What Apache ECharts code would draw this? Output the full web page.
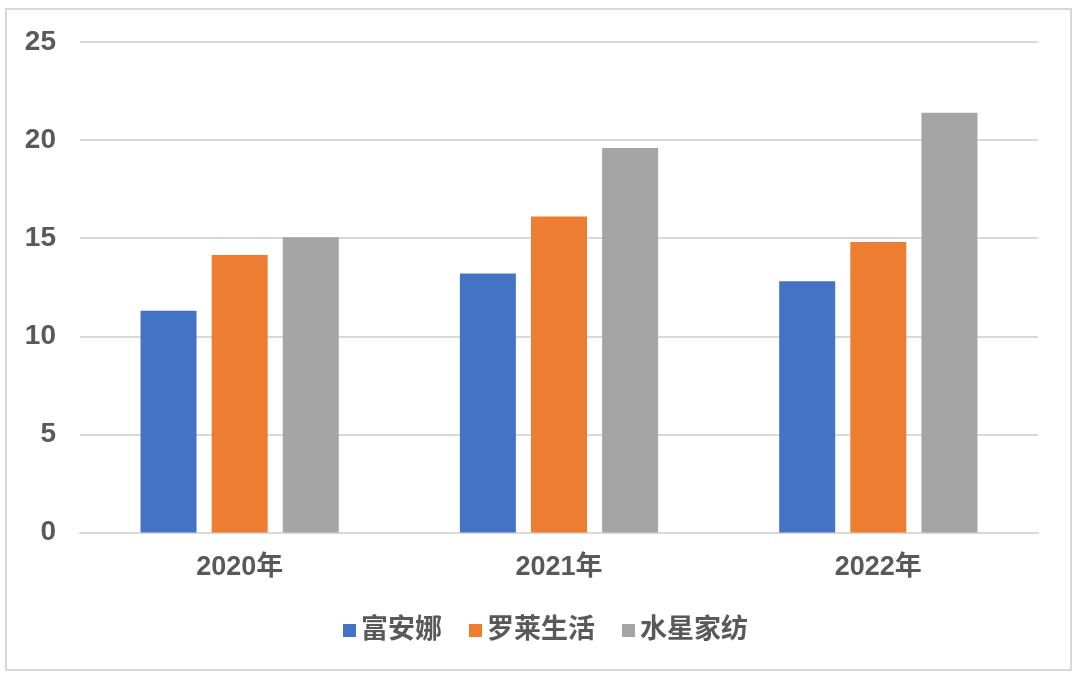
<!DOCTYPE html>
<html>
<head>
<meta charset="utf-8">
<script src="https://cdn.jsdelivr.net/npm/echarts@6/dist/echarts.min.js"></script>
<style>
html,body{margin:0;padding:0;background:#fff;}
#chart{width:1080px;height:678px;}
</style>
</head>
<body>
<div id="chart"></div>
<script>
const categories = ['2020年', '2021年', '2022年'];
const seriesNames = ['富安娜', '罗莱生活', '水星家纺'];
const fuanna = [11.3, 13.2, 12.8];
const luolai = [14.15, 16.1, 14.8];
const shuixing = [15.05, 19.6, 21.4];
const yTicks = [0, 5, 10, 15, 20, 25];

const colors = ['#4472C4', '#ED7D31', '#A5A5A5'];
const font = '"Liberation Sans", Arial, "Noto Sans CJK SC", sans-serif';
const textColor = '#595959';

const chart = echarts.init(document.getElementById('chart'), null, {renderer: 'canvas'});
const valuesList = [fuanna, luolai, shuixing];
chart.setOption({
  animation: false,
  backgroundColor: '#fff',
  color: colors,
  graphic: [{
    type: 'rect',
    shape: {x: 6, y: 9, width: 1065, height: 661},
    style: {fill: 'none', stroke: '#d9d9d9', lineWidth: 2},
    silent: true
  }],
  grid: {left: 80, right: 42, top: 42, bottom: 145.5, containLabel: false},
  legend: {
    data: seriesNames,
    left: 338,
    top: 612,
    icon: 'rect',
    itemWidth: 13,
    itemHeight: 13,
    itemGap: 27,
    textStyle: {fontFamily: font, fontSize: 27, fontWeight: 'bold', color: textColor}
  },
  xAxis: {
    type: 'category',
    data: categories,
    axisLine: {show: true, lineStyle: {color: '#d9d9d9', width: 2}},
    axisTick: {show: false},
    axisLabel: {fontFamily: font, fontSize: 27, fontWeight: 'bold', color: textColor, margin: 22}
  },
  yAxis: {
    type: 'value',
    min: yTicks[0],
    max: yTicks[yTicks.length - 1],
    interval: 5,
    axisLine: {show: false},
    axisTick: {show: false},
    splitLine: {lineStyle: {color: '#d9d9d9', width: 2}},
    axisLabel: {fontFamily: font, fontSize: 28, fontWeight: 'bold', color: textColor, margin: 24}
  },
  series: seriesNames.map((name, i) => ({
    name: name,
    type: 'bar',
    data: valuesList[i],
    barWidth: 56,
    barGap: '27%',
    itemStyle: {color: colors[i]}
  }))
});
</script>
</body>
</html>
